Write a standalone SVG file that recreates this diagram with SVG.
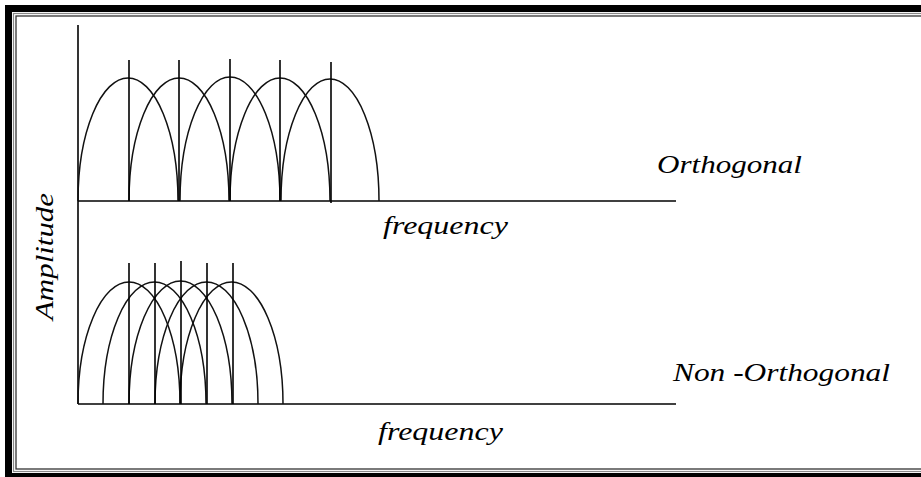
<svg xmlns="http://www.w3.org/2000/svg" width="921" height="477" viewBox="0 0 921 477">
<style>
.ln{fill:none;stroke:#000;stroke-width:1.6}
.arc{fill:none;stroke:#111;stroke-width:1.5}
.lbl{font-family:"Liberation Serif",serif;font-style:italic;font-size:26px;fill:#000}
</style>
<rect width="921" height="477" fill="#fff"/>
<g id="frame">
<rect x="8.5" y="8.5" width="930" height="468" fill="none" stroke="#000" stroke-width="7"/>
<rect x="13.5" y="13.5" width="920" height="458" fill="none" stroke="#888" stroke-width="1.2"/>
<rect x="16" y="16" width="920" height="453" fill="none" stroke="#333" stroke-width="1.3"/>
</g>
<g id="axes">
<line class="ln" x1="78" y1="25" x2="78" y2="404"/>
<line class="ln" x1="78" y1="201" x2="676" y2="201"/>
<line class="ln" x1="78" y1="404" x2="676" y2="404"/>
</g>
<g id="orthogonal-spectrum">
<path class="arc" d="M78,201 A50,123 0 0 1 178,201"/>
<path class="arc" d="M129,201 A50,123 0 0 1 229,201"/>
<path class="arc" d="M180,201 A50,124 0 0 1 280,201"/>
<path class="arc" d="M230,201 A50,123 0 0 1 330,201"/>
<path class="arc" d="M281,201 A49,122 0 0 1 379,201"/>
<line class="ln" x1="129" y1="60" x2="129" y2="201"/>
<line class="ln" x1="179" y1="60" x2="179" y2="201"/>
<line class="ln" x1="230" y1="59" x2="230" y2="201"/>
<line class="ln" x1="280" y1="60" x2="280" y2="201"/>
<line class="ln" x1="331" y1="62" x2="331" y2="203"/>
</g>
<g id="nonorthogonal-spectrum">
<path class="arc" d="M78,404 A51,122 0 0 1 180,404"/>
<path class="arc" d="M103,404 A51.5,122 0 0 1 206,404"/>
<path class="arc" d="M129,404 A51.5,123 0 0 1 232,404"/>
<path class="arc" d="M155,404 A51.5,122 0 0 1 258,404"/>
<path class="arc" d="M180,404 A51.5,122 0 0 1 283,404"/>
<line class="ln" x1="129" y1="263" x2="129" y2="404"/>
<line class="ln" x1="155" y1="263" x2="155" y2="404"/>
<line class="ln" x1="181" y1="261" x2="181" y2="404"/>
<line class="ln" x1="207" y1="263" x2="207" y2="404"/>
<line class="ln" x1="233" y1="263" x2="233" y2="404"/>
</g>
<g id="labels">
<text class="lbl" x="657" y="173" textLength="145" lengthAdjust="spacingAndGlyphs">Orthogonal</text>
<text class="lbl" x="383" y="234" textLength="125" lengthAdjust="spacingAndGlyphs">frequency</text>
<text class="lbl" x="673" y="381" textLength="217" lengthAdjust="spacingAndGlyphs">Non -Orthogonal</text>
<text class="lbl" x="378" y="440" textLength="125" lengthAdjust="spacingAndGlyphs">frequency</text>
<text class="lbl" transform="translate(53,320) rotate(-90)" x="0" y="0" textLength="127" lengthAdjust="spacingAndGlyphs">Amplitude</text>
</g>
</svg>
